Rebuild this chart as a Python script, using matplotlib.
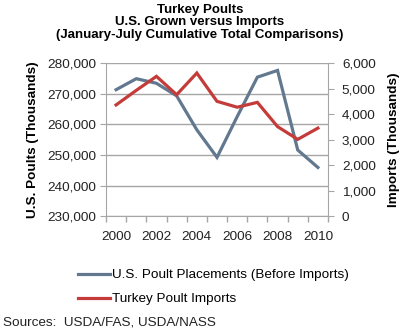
import matplotlib
matplotlib.use("Agg")
import matplotlib.pyplot as plt
from matplotlib.ticker import FuncFormatter, MultipleLocator, FixedLocator

plt.rcParams['font.family'] = ['Liberation Sans', 'DejaVu Sans']

years = [2000, 2001, 2002, 2003, 2004, 2005, 2006, 2007, 2008, 2009, 2010]
us_poults = [271300, 274900, 273400, 269300, 258200, 249200, 262500, 275400, 277600, 251600, 245900]
imports = [4360, 4930, 5480, 4760, 5610, 4500, 4270, 4460, 3510, 3010, 3450]
year_labels = ["2000", "2002", "2004", "2006", "2008", "2010"]

blue = "#62788f"
red = "#c43c3a"
grid_c = "#a6a6a6"

fig = plt.figure(figsize=(4.0, 3.32), dpi=100)
ax = fig.add_axes([0.265, 0.349, 0.555, 0.461])
ax2 = ax.twinx()

x = list(range(len(years)))
l1, = ax.plot(x, us_poults, color=blue, lw=2.3, solid_joinstyle='miter', zorder=3)
l2, = ax2.plot(x, imports, color=red, lw=2.3, solid_joinstyle='miter', zorder=3)

ax.set_xlim(-0.5, len(years) - 0.5)
ax.set_ylim(230000, 280000)
ax2.set_ylim(0, 6000)
ax.yaxis.set_major_locator(MultipleLocator(10000))
ax2.yaxis.set_major_locator(MultipleLocator(1000))
fmt = FuncFormatter(lambda v, p: f"{int(v):,}")
ax.yaxis.set_major_formatter(fmt)
ax2.yaxis.set_major_formatter(fmt)

ax.xaxis.set_major_locator(FixedLocator([i - 0.5 for i in range(len(years) + 1)]))
ax.set_xticklabels([])
ax.xaxis.set_minor_locator(FixedLocator([0, 2, 4, 6, 8, 10]))
ax.set_xticklabels(year_labels, minor=True)
ax.tick_params(axis='x', which='minor', length=0, labelsize=9.7, pad=11)
ax.tick_params(axis='x', which='major', length=4, color=grid_c, width=1)

ax.grid(axis='y', color=grid_c, lw=1)
ax.set_axisbelow(True)
for a in (ax, ax2):
    a.spines['top'].set_visible(False)
    a.spines['left'].set_color(grid_c)
    a.spines['right'].set_color(grid_c)
    a.spines['bottom'].set_color(grid_c)
ax.spines['right'].set_visible(False)
ax2.spines['left'].set_visible(False)
ax2.spines['bottom'].set_visible(False)

ax.tick_params(axis='y', length=4, color=grid_c, labelsize=9.7, labelcolor='#222222', pad=3)
ax2.tick_params(axis='y', length=4, color=grid_c, labelsize=9.7, labelcolor='#222222', pad=6)
ax.tick_params(axis='x', which='minor', labelcolor='#222222')

ax.set_ylabel("U.S. Poults (Thousands)", fontsize=9.7, fontweight='bold', labelpad=6)
ax2.set_ylabel("Imports (Thousands)", fontsize=9.7, fontweight='bold', labelpad=9)

fig.text(0.5, 0.988, "Turkey Poults\nU.S. Grown versus Imports\n(January-July Cumulative Total Comparisons)",
         ha='center', va='top', fontsize=9.5, fontweight='bold', linespacing=1.05)

leg = fig.legend([l1, l2], ["U.S. Poult Placements (Before Imports)", "Turkey Poult Imports"],
                 loc='upper left', bbox_to_anchor=(0.195, 0.19), frameon=False,
                 fontsize=9.7, handlelength=2.4, handletextpad=0.1, labelspacing=0.85,
                 borderaxespad=0, borderpad=0)

fig.text(0.008, 0.01, "Sources:  USDA/FAS, USDA/NASS", ha='left', va='bottom', fontsize=9.7, color='#222222')

fig.savefig("out.png", dpi=100)
